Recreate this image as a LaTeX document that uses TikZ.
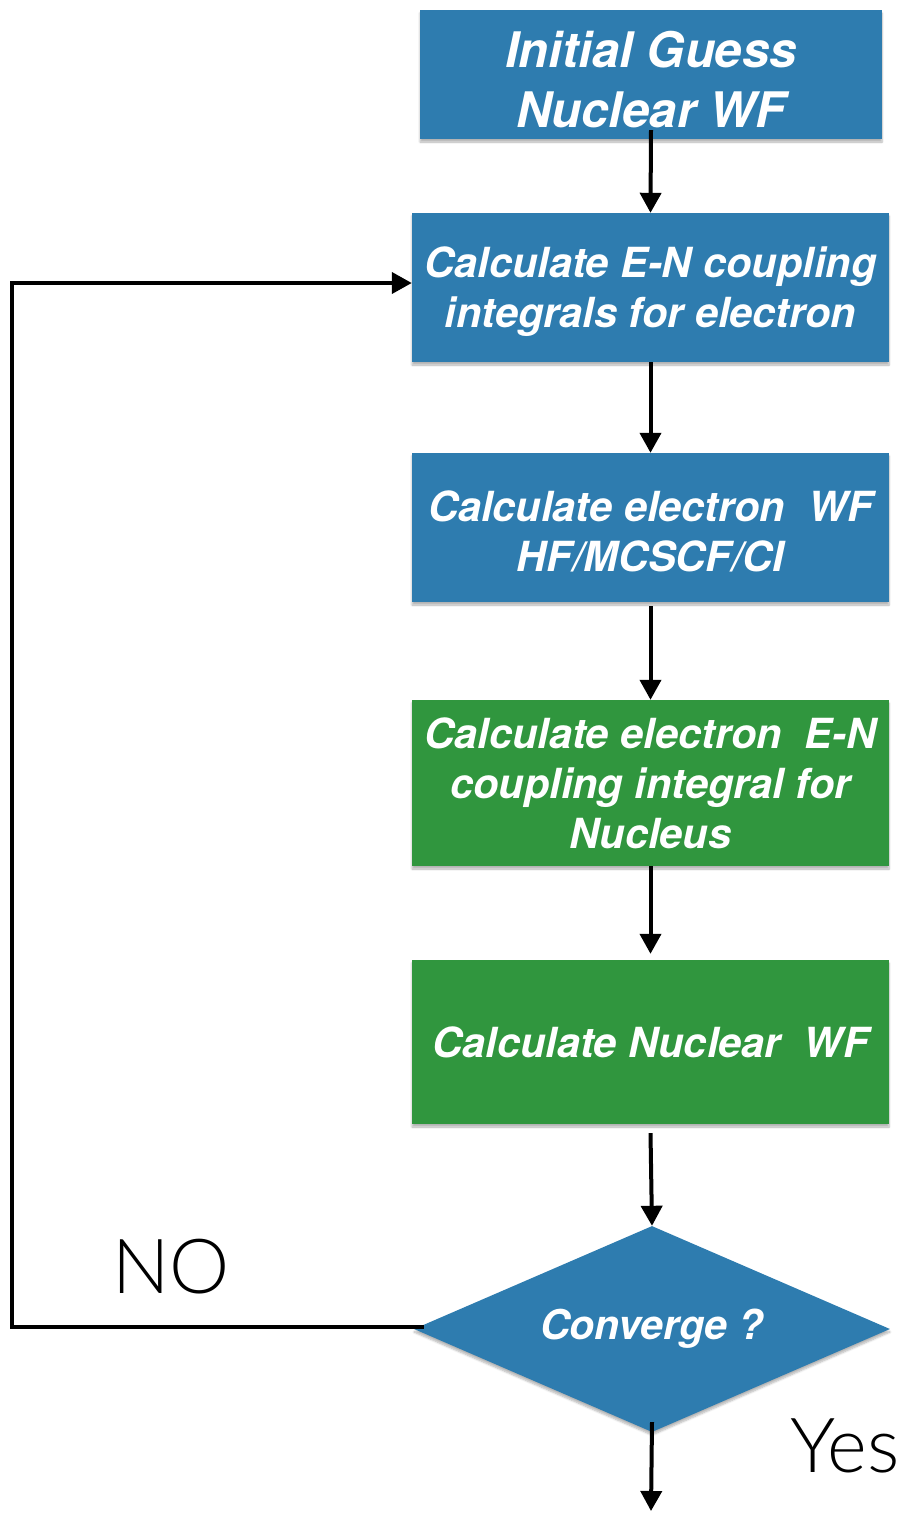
\documentclass[tikz,border=0pt]{standalone}
\usepackage{fontspec}
\setmainfont{TeX Gyre Heros}
\newfontfamily\lightfont{Lato Light}
\usetikzlibrary{shapes.geometric,arrows.meta,shadows.blur}
\definecolor{stepblue}{RGB}{46,124,175}
\definecolor{stepgreen}{RGB}{48,150,62}
% extra room above the first line of a multi-line box
\newcommand{\firstline}{\rule{0pt}{39pt}}
\tikzset{
  flowbox/.style={rectangle, inner sep=0pt, text=white, align=center,
    font=\fontsize{41.5}{50}\selectfont\bfseries\itshape,
    blur shadow={shadow xshift=0pt, shadow yshift=-3pt, shadow blur steps=6, shadow opacity=30}},
  bluebox/.style={flowbox, fill=stepblue},
  greenbox/.style={flowbox, fill=stepgreen},
  flowline/.style={line width=4pt, draw=black},
  flowarrow/.style={flowline, -{Triangle[length=20pt,width=21pt]}},
  answer/.style={font=\lightfont\fontsize{76}{80}\selectfont, anchor=base west, inner sep=0pt}
}
\begin{document}
\begin{tikzpicture}[x=1pt, y=-1pt]
  \useasboundingbox (0,0) rectangle (908,1513);

  % process steps
  \node[bluebox, minimum width=462pt, minimum height=129pt,
        font=\fontsize{49}{60}\selectfont\bfseries\itshape]
        (guess) at (651,74.5) {\rule{0pt}{46pt}Initial Guess\\Nuclear WF};
  \node[bluebox, minimum width=477pt, minimum height=149pt]
        (coupl) at (650.5,287.5) {\firstline Calculate E-N coupling\\integrals for electron};
  \node[bluebox, minimum width=477pt, minimum height=149pt]
        (elwf) at (650.5,527.5) {\firstline Calculate electron\ \ WF\\HF/MCSCF/CI};
  \node[greenbox, minimum width=477pt, minimum height=166pt]
        (nuccoupl) at (650.5,783) {Calculate electron\ \ E-N\\coupling integral for\\Nucleus};
  \node[greenbox, minimum width=477pt, minimum height=164pt]
        (nucwf) at (650.5,1042) {Calculate Nuclear\ \ WF};

  % convergence test
  \node[diamond, aspect=2.31, fill=stepblue, inner sep=0pt, minimum width=476pt, minimum height=206pt,
        text=white, font=\fontsize{41}{48}\selectfont\bfseries\itshape,
        blur shadow={shadow xshift=0pt, shadow yshift=-3pt, shadow blur steps=6, shadow opacity=30}]
        (conv) at (652,1329) {\raisebox{-4pt}{Converge ?}};

  % main flow
  \draw[flowarrow] ([yshift=9pt]guess.south) -- (coupl.north);
  \draw[flowarrow] (coupl.south) -- (elwf.north);
  \draw[flowarrow] ([yshift=-4pt]elwf.south) -- (nuccoupl.north);
  \draw[flowarrow] (nuccoupl.south) -- ([yshift=6pt]nucwf.north);
  \draw[flowarrow] ([yshift=-9pt]nucwf.south) -- (conv.north);

  % exit
  \coordinate (done) at (651,1511);
  \draw[flowarrow] ([yshift=10pt]conv.south) -- (done);

  % loop back when not converged
  \coordinate (corner) at (12,1327);
  \draw[flowarrow] ([xshift=10pt,yshift=2pt]conv.west) -- (corner) |- ([yshift=4.5pt]coupl.west);

  % branch labels
  \node[answer] (no) at (112,1293) {NO};
  \node[answer] (yes) at (790,1472) {Yes};
\end{tikzpicture}
\end{document}
